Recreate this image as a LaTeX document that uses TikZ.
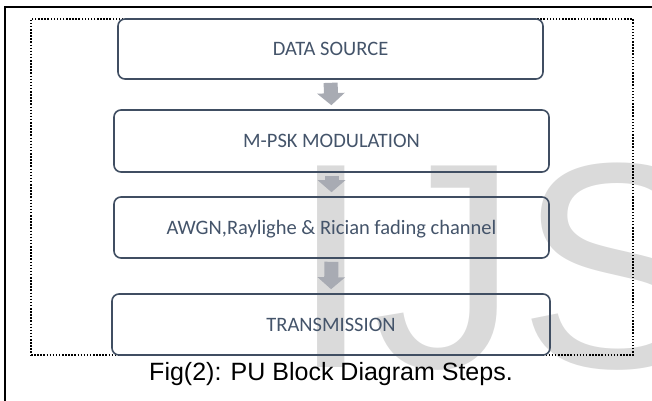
\documentclass[tikz,border=0pt]{standalone}
\usepackage{fontspec}
\setmainfont{Liberation Sans}
\newfontfamily\boxfont{Carlito}
\usetikzlibrary{arrows.meta}
\definecolor{slate}{RGB}{68,84,106}
\definecolor{slateline}{RGB}{64,78,98}
\definecolor{arrowgray}{RGB}{168,171,179}
\definecolor{wmark}{RGB}{218,218,218}
\tikzset{
  stepbox/.style={draw=slateline, line width=1.6pt, rounded corners=7pt,
    text=slate, font=\boxfont\fontsize{20.5}{24}\selectfont,
    text height=13pt, text depth=0pt, inner sep=0pt},
  blockarrow/.style={draw=arrowgray, line width=14pt,
    -{Triangle[width=27pt,length=12pt]}, shorten <=3pt, shorten >=4pt},
  dotframe/.style={draw=black, line width=1.5pt, dash pattern=on 1.5pt off 1.6pt, inner sep=0pt},
  captionstyle/.style={font=\fontsize{25}{30}\selectfont, text=black, inner sep=0pt, anchor=base},
  watermark/.style={font=\fontsize{293}{300}\selectfont, text=wmark, inner sep=0pt, anchor=base west}
}
\begin{document}
\begin{tikzpicture}[x=1pt,y=-1pt]
\useasboundingbox (0,0) rectangle (652,400);
\begin{scope}
  \clip (0,0) rectangle (652,400);
  \node[watermark] (wm) at (290.5,367) {IJS};
  \draw[black, line width=1.6pt] (5,410) -- (5,7) -- (660,7);
\end{scope}
\node[dotframe, minimum width=602pt, minimum height=336pt] (frame) at (332,187) {};
\node[stepbox, minimum width=425pt, minimum height=60pt] (src) at (330.5,49) {DATA SOURCE};
\node[stepbox, minimum width=435pt, minimum height=62pt] (mod) at (331.5,141) {M-PSK MODULATION};
\node[stepbox, minimum width=435pt, minimum height=61pt] (chan) at (331.5,227.5) {AWGN,Raylighe \& Rician fading channel};
\node[stepbox, minimum width=438pt, minimum height=61pt] (tx) at (331,324.5) {TRANSMISSION};
\draw[blockarrow] (src.south) -- (mod.north);
\draw[blockarrow] (mod.south) -- (chan.north);
\draw[blockarrow] (chan.south) -- (tx.north);
\node[captionstyle] (cap) at (331,380) {Fig(2): PU Block Diagram Steps.};
\end{tikzpicture}
\end{document}
